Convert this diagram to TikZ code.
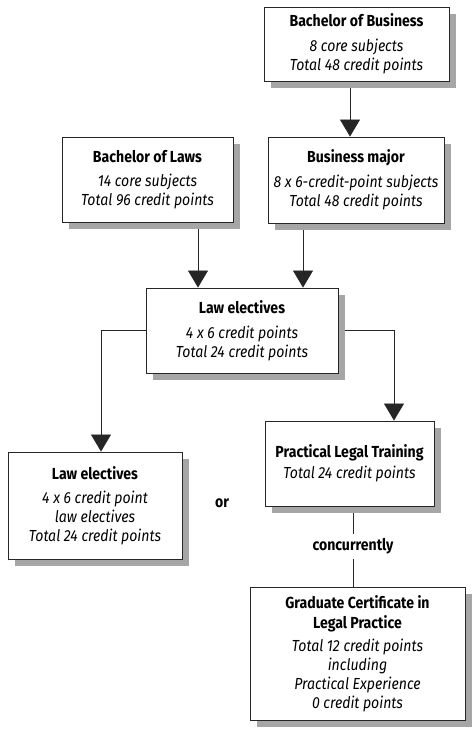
\documentclass[tikz,border=0pt]{standalone}
\usepackage{fontspec}
\setmainfont[FakeStretch=0.88]{Fira Sans}
\usetikzlibrary{arrows.meta,backgrounds,shadows}
\begin{document}
\begin{tikzpicture}[x=1pt,y=-1pt,
  box/.style={draw=black!85, line width=0.9pt, fill=white, align=center,
    inner sep=2pt, font=\fontsize{16}{18.8}\selectfont,
    general shadow={shadow xshift=7pt, shadow yshift=-7pt, fill=black!35}},
  arr/.style={line width=0.8pt, draw=black!85, -{Triangle[width=20pt,length=17pt]}},
  conn/.style={line width=0.8pt, draw=black!85},
  lbl/.style={font=\fontsize{16}{18}\selectfont\bfseries, fill=white, inner sep=5pt}]
\useasboundingbox (0,0) rectangle (473,731);
\coordinate (xa) at (350,0);
\coordinate (xb) at (198,0);
\coordinate (xc) at (303,0);
\coordinate (xd) at (101,0);
\coordinate (xe) at (394,0);
\coordinate (xf) at (353,0);

\node[box, minimum width=185pt, minimum height=74pt] (bb) at (356.5,44)
  {\textbf{Bachelor of Business}\\[6pt]\textit{8 core subjects}\\\textit{Total 48 credit points}};
\node[box, minimum width=171pt, minimum height=85pt] (bl) at (147.5,179.5)
  {\textbf{Bachelor of Laws}\\[6pt]\textit{14 core subjects}\\\textit{Total 96 credit points}};
\node[box, minimum width=176pt, minimum height=86pt] (bm) at (356,180)
  {\textbf{Business major}\\[6pt]\textit{8 x 6-credit-point subjects}\\\textit{Total 48 credit points}};
\node[box, minimum width=192pt, minimum height=85pt] (le) at (242,330.5)
  {\textbf{Law electives}\\[6pt]\textit{4 x 6 credit points}\\\textit{Total 24 credit points}};
\node[box, minimum width=174pt, minimum height=107pt] (le2) at (95,505.5)
  {\textbf{Law electives}\\[6pt]\textit{4 x 6 credit point}\\\textit{law electives}\\\textit{Total 24 credit points}};
\node[box, minimum width=169pt, minimum height=85pt] (plt) at (349.5,463.5)
  {\textbf{Practical Legal Training}\\[2pt]\textit{Total 24 credit points}};
\node[box, minimum width=215pt, minimum height=133pt] (gc) at (357.5,653.5)
  {\textbf{Graduate Certificate in}\\[1pt]\textbf{Legal Practice}\\[5pt]\textit{Total 12 credit points}\\\textit{including}\\\textit{Practical Experience}\\\textit{0 credit points}};
\node[font=\fontsize{16}{18}\selectfont\bfseries] (or) at (222,503) {or};

\begin{scope}[on background layer]
\fill[white] (0,0) rectangle (473,731);
\draw[arr] (bb.south -| xa) -- (bm.north -| xa);
\draw[arr] (bl.south -| xb) -- (le.north -| xb);
\draw[arr] (bm.south -| xc) -- (le.north -| xc);
\draw[arr] (le.west) -| (le2.north -| xd);
\draw[arr] (le.east) -| (plt.north -| xe);
\draw[conn] (plt.south -| xf) -- node[lbl] (conc) {concurrently} (gc.north -| xf);
\end{scope}
\end{tikzpicture}
\end{document}
